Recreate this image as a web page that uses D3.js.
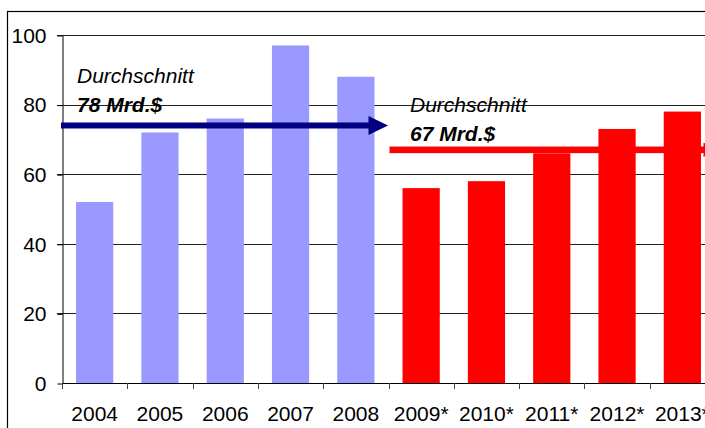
<!DOCTYPE html>
<html>
<head>
<meta charset="utf-8">
<script src="https://cdn.jsdelivr.net/npm/d3@7"></script>
<style>
  html, body { margin: 0; padding: 0; background: #fff; overflow: hidden; }
  svg { display: block; }
  text { font-family: "Liberation Sans", Arial, sans-serif; }
</style>
</head>
<body>
<div id="chart"></div>
<script>
// ---- data ----
const categories = ["2004", "2005", "2006", "2007", "2008", "2009*", "2010*", "2011*", "2012*", "2013*"];
const values = [52, 72, 76, 97, 88, 56, 58, 66, 73, 78];
const isForecast = [false, false, false, false, false, true, true, true, true, true];
const yTicks = [0, 20, 40, 60, 80, 100];
const avgTitles = ["Durchschnitt", "Durchschnitt"];
const avgLabels = ["78 Mrd.$", "67 Mrd.$"];
const avgLineLevels = [74, 67];

// ---- layout ----
const W = 705, H = 428;
const mLeft = 62, mRight = 715, mTop = 35, mBottom = 383;
const FS = 21;

const svg = d3.select("#chart").append("svg")
  .attr("width", W).attr("height", H);

const x = d3.scaleBand().domain(categories).range([mLeft, mRight])
  .paddingInner(0.43).paddingOuter(0.215);
const y = d3.scaleLinear().domain([0, 100]).range([mBottom, mTop]);
const step = x.step();

// outer frame
svg.append("rect").attr("x", 7.5).attr("y", 11.5)
  .attr("width", 760).attr("height", 500)
  .attr("fill", "none").attr("stroke", "#000").attr("stroke-width", 1.2);

// gridlines
svg.append("g").selectAll("line").data(yTicks.filter(d => d > 0)).join("line")
  .attr("x1", mLeft - 5).attr("x2", W + 20)
  .attr("y1", d => Math.round(y(d)) + 0.5).attr("y2", d => Math.round(y(d)) + 0.5)
  .attr("stroke", "#222").attr("stroke-width", 1);

// bars
svg.append("g").selectAll("rect").data(categories).join("rect")
  .attr("x", d => x(d))
  .attr("width", x.bandwidth())
  .attr("y", (d, i) => y(values[i]))
  .attr("height", (d, i) => y(0) - y(values[i]))
  .attr("fill", (d, i) => isForecast[i] ? "#FF0000" : "#9999FF");

// y axis
const yAxis = d3.axisLeft(y).tickValues(yTicks).tickSize(5).tickPadding(11).tickSizeOuter(0);
const gy = svg.append("g").attr("transform", `translate(${mLeft + 0.5},0.5)`).call(yAxis);
gy.select(".domain").attr("stroke", "#000");
gy.selectAll(".tick line").attr("stroke", "#000");
gy.selectAll(".tick text").attr("font-size", FS).attr("fill", "#000")
  .attr("font-family", "'Liberation Sans', Arial, sans-serif");

// x axis
svg.append("line").attr("x1", mLeft).attr("x2", W + 20)
  .attr("y1", mBottom + 0.5).attr("y2", mBottom + 0.5).attr("stroke", "#000");
svg.append("g").selectAll("line").data(d3.range(categories.length + 1)).join("line")
  .attr("x1", i => Math.round(mLeft + i * step) + 0.5)
  .attr("x2", i => Math.round(mLeft + i * step) + 0.5)
  .attr("y1", mBottom).attr("y2", mBottom + 6)
  .attr("stroke", "#444");
svg.append("g").selectAll("text").data(categories).join("text")
  .attr("x", d => x(d) + x.bandwidth() / 2)
  .attr("y", 421)
  .attr("text-anchor", "middle")
  .attr("font-size", FS).attr("fill", "#000")
  .text(d => d);

// average lines
const midX = mLeft + 5 * step;
// blue arrow (first period)
const yb = y(avgLineLevels[0]);
svg.append("rect").attr("x", mLeft - 1).attr("y", yb - 3).attr("width", midX - 20 - mLeft + 2).attr("height", 6)
  .attr("fill", "#000080");
svg.append("path")
  .attr("d", `M${midX - 20},${yb - 9.5} L${midX - 0.5},${yb} L${midX - 20},${yb + 9.5} Z`)
  .attr("fill", "#000080");

// red line (second period)
const yr = y(avgLineLevels[1]);
svg.append("rect").attr("x", midX + 1).attr("y", yr - 3.3).attr("width", 720 - midX).attr("height", 6.6)
  .attr("fill", "#FF0000");
svg.append("path")
  .attr("d", `M${703.5},${yr - 7} L${724},${yr} L${703.5},${yr + 7} Z`)
  .attr("fill", "#FF0000");

// annotation texts
const textPos = [[77, 83, 112], [410, 112, 141]];
textPos.forEach((p, i) => {
  svg.append("text").attr("x", p[0]).attr("y", p[1])
    .attr("font-size", FS).attr("font-style", "italic").attr("fill", "#000")
    .text(avgTitles[i]);
  svg.append("text").attr("x", p[0]).attr("y", p[2])
    .attr("font-size", FS).attr("font-style", "italic").attr("font-weight", "bold").attr("fill", "#000")
    .text(avgLabels[i]);
});
</script>
</body>
</html>
